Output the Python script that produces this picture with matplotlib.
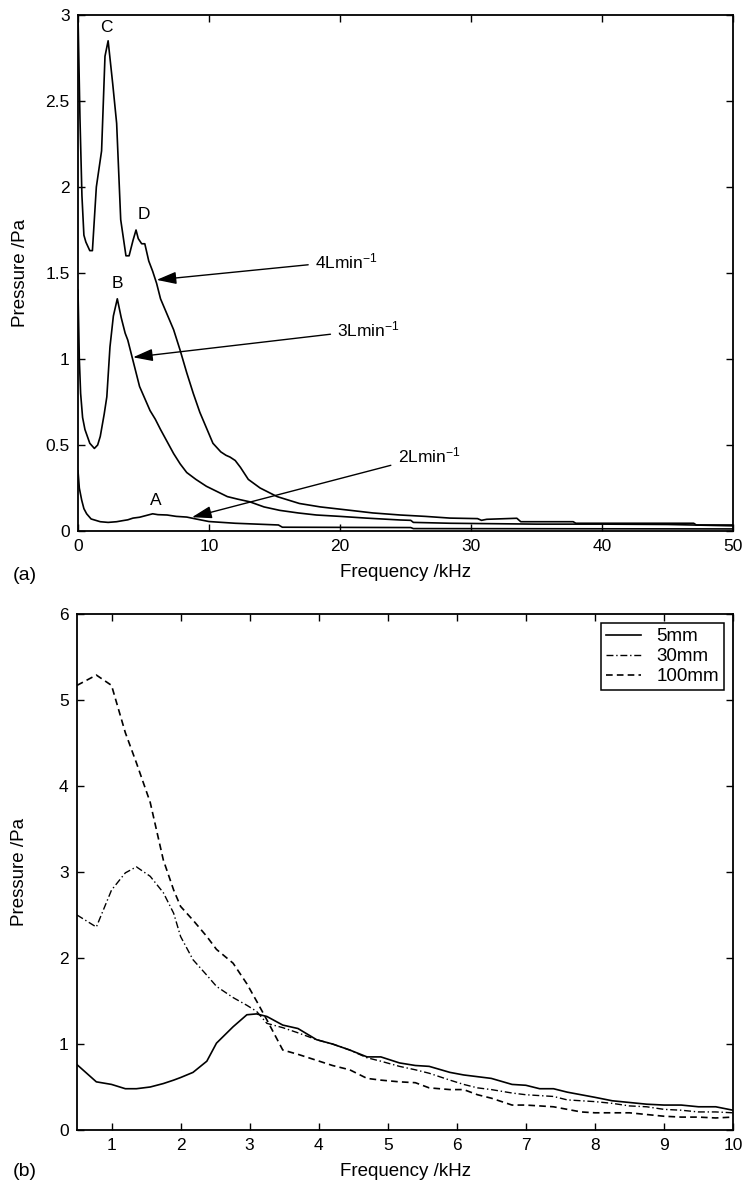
import matplotlib
matplotlib.use("Agg")
import matplotlib.pyplot as plt

plt.rcParams['font.family'] = ['Liberation Sans', 'DejaVu Sans']
plt.rcParams['mathtext.default'] = 'regular'

# === DATA (a): pressure spectra at three flow rates ===
f_4l = [0.0, 0.15, 0.3, 0.45, 0.6, 0.9, 1.1, 1.4, 1.8, 2.06, 2.3, 2.65, 2.95, 3.26, 3.66,
        3.9, 4.2, 4.43, 4.6, 4.86, 5.1, 5.4, 5.7, 6.0, 6.3, 6.8, 7.3, 7.8, 8.3, 8.8, 9.3,
        9.8, 10.3, 10.9, 11.3, 11.6, 12.0, 12.4, 13.0, 13.9, 15.2, 16.9, 18.5, 20.8, 22.5,
        24.6, 26.5, 28.4, 30.5, 30.8, 31.2, 33.5, 33.8, 37.8, 38.0, 47.0, 47.2, 50.0]
p_4l = [3.0, 2.4, 1.95, 1.72, 1.68, 1.63, 1.63, 2.0, 2.21, 2.76, 2.85, 2.6, 2.37, 1.81, 1.6,
        1.6, 1.69, 1.75, 1.70, 1.67, 1.67, 1.57, 1.51, 1.44, 1.35, 1.26, 1.17, 1.05, 0.92, 0.80, 0.69,
        0.60, 0.51, 0.46, 0.44, 0.43, 0.41, 0.37, 0.30, 0.25, 0.20, 0.16, 0.14, 0.12, 0.105,
        0.093, 0.085, 0.075, 0.072, 0.062, 0.068, 0.074, 0.054, 0.054, 0.045, 0.045, 0.035, 0.035]

f_3l = [0.0, 0.1, 0.2, 0.35, 0.53, 0.9, 1.25, 1.5, 1.7, 2.0, 2.2, 2.44, 2.7, 3.0, 3.3, 3.6,
        3.8, 4.2, 4.7, 5.1, 5.5, 5.9, 6.3, 6.8, 7.3, 7.8, 8.3, 9.0, 9.8, 10.6, 11.4, 12.2,
        13.1, 14.2, 15.4, 16.8, 18.2, 20.0, 22.0, 24.6, 25.4, 25.6, 28.4, 31.0, 35.0, 40.0,
        45.0, 50.0]
p_3l = [1.4, 1.0, 0.8, 0.66, 0.59, 0.51, 0.48, 0.5, 0.55, 0.68, 0.78, 1.07, 1.25, 1.35, 1.24, 1.15,
        1.11, 0.99, 0.84, 0.77, 0.70, 0.65, 0.59, 0.52, 0.45, 0.39, 0.34, 0.30, 0.26, 0.23, 0.20, 0.185,
        0.17, 0.14, 0.12, 0.105, 0.093, 0.085, 0.075, 0.064, 0.062, 0.05, 0.045, 0.043, 0.04, 0.04,
        0.038, 0.03]

f_2l = [0.0, 0.1, 0.28, 0.45, 0.66, 1.0, 1.7, 2.3, 2.95, 3.4, 3.8, 4.2, 4.7, 5.2, 5.7, 6.1,
        6.8, 7.5, 8.3, 9.0, 10.0, 12.0, 15.3, 15.6, 25.4, 25.6, 50.0]
p_2l = [0.35, 0.25, 0.18, 0.13, 0.10, 0.07, 0.054, 0.05, 0.054, 0.06, 0.065, 0.075, 0.08, 0.09, 0.10, 0.095,
        0.093, 0.085, 0.081, 0.07, 0.055, 0.045, 0.035, 0.022, 0.02, 0.014, 0.012]

xticks_a = [0, 10, 20, 30, 40, 50]
yticks_a = [0, 0.5, 1, 1.5, 2, 2.5, 3]
ylabels_a = ['0', '0.5', '1', '1.5', '2', '2.5', '3']

# === DATA (b): pressure vs frequency at three distances ===
f_b = [0.5, 0.78, 1.0, 1.2, 1.36, 1.56, 1.75, 1.9, 2.0, 2.18, 2.38, 2.52, 2.76, 2.96, 3.1,
       3.25, 3.48, 3.7, 3.97, 4.2, 4.45, 4.7, 4.9, 5.17, 5.4, 5.6, 5.9, 6.1, 6.3, 6.5, 6.8,
       7.0, 7.2, 7.4, 7.6, 7.8, 8.0, 8.25, 8.5, 8.75, 9.0, 9.25, 9.5, 9.75, 10.0]
p_5mm = [0.76, 0.56, 0.53, 0.48, 0.48, 0.5, 0.54, 0.58, 0.61, 0.67, 0.80, 1.01, 1.2, 1.34, 1.35,
         1.32, 1.22, 1.18, 1.05, 1.0, 0.93, 0.85, 0.85, 0.78, 0.75, 0.74, 0.67, 0.64, 0.62, 0.6, 0.53,
         0.52, 0.48, 0.48, 0.44, 0.41, 0.38, 0.34, 0.32, 0.30, 0.29, 0.29, 0.27, 0.27, 0.23]
p_30mm = [2.5, 2.36, 2.79, 2.99, 3.06, 2.95, 2.76, 2.52, 2.25, 1.98, 1.8, 1.67, 1.54, 1.45, 1.38,
          1.24, 1.19, 1.13, 1.05, 1.0, 0.93, 0.84, 0.80, 0.74, 0.70, 0.66, 0.58, 0.53, 0.49, 0.47, 0.43,
          0.41, 0.40, 0.39, 0.35, 0.34, 0.33, 0.31, 0.28, 0.27, 0.24, 0.23, 0.21, 0.21, 0.2]
p_100mm = [5.17, 5.29, 5.17, 4.62, 4.27, 3.81, 3.14, 2.79, 2.6, 2.44, 2.25, 2.1, 1.94, 1.7, 1.5,
           1.28, 0.93, 0.88, 0.81, 0.75, 0.70, 0.60, 0.58, 0.56, 0.55, 0.49, 0.47, 0.47, 0.41, 0.37, 0.29,
           0.29, 0.28, 0.27, 0.24, 0.21, 0.2, 0.2, 0.2, 0.18, 0.16, 0.15, 0.15, 0.14, 0.15]

xticks_b = [1, 2, 3, 4, 5, 6, 7, 8, 9, 10]
yticks_b = [0, 1, 2, 3, 4, 5, 6]

FS_TICK = 12.5
FS_LABEL = 13.5
FS_NOTE = 12.5
W, H = 744, 1185


def style_axes(ax):
    for s in ax.spines.values():
        s.set_linewidth(1.3)
    ax.tick_params(direction='in', length=5, width=1, top=True, right=True,
                   labelsize=FS_TICK, pad=6)


fig = plt.figure(figsize=(W / 100, H / 100), dpi=100)

# --- (a) ---
ax1 = fig.add_axes([78 / W, 1 - 531 / H, (733 - 78) / W, (531 - 15) / H])
ax1.plot(f_4l, p_4l, color='k', lw=1.2)
ax1.plot(f_3l, p_3l, color='k', lw=1.2)
ax1.plot(f_2l, p_2l, color='k', lw=1.2)
ax1.set_xlim(0, 50)
ax1.set_ylim(0, 3)
ax1.set_xticks(xticks_a)
ax1.set_yticks(yticks_a)
ax1.set_yticklabels(ylabels_a)
style_axes(ax1)
ax1.set_xlabel('Frequency /kHz', fontsize=FS_LABEL)
ax1.set_ylabel('Pressure /Pa', fontsize=FS_LABEL)
ax1.xaxis.set_label_coords(0.5, -0.064)
ax1.yaxis.set_label_coords(-0.075, 0.5)

for lbl, x, y in [('C', 2.2, 2.93), ('D', 5.0, 1.84), ('B', 3.0, 1.44), ('A', 5.9, 0.18)]:
    ax1.text(x, y, lbl, fontsize=FS_NOTE, ha='center', va='center')

arrow = dict(arrowstyle='-|>,head_length=0.8,head_width=0.25', color='k', lw=1,
             mutation_scale=15, shrinkA=3, shrinkB=0)
ax1.annotate('4Lmin$^{-1}$', xy=(6.0, 1.46), xytext=(18.1, 1.57), fontsize=FS_NOTE,
             ha='left', va='center', arrowprops=arrow)
ax1.annotate('3Lmin$^{-1}$', xy=(4.2, 1.01), xytext=(19.8, 1.17), fontsize=FS_NOTE,
             ha='left', va='center', arrowprops=arrow)
ax1.annotate('2Lmin$^{-1}$', xy=(8.7, 0.08), xytext=(24.4, 0.44), fontsize=FS_NOTE,
             ha='left', va='center', arrowprops=arrow)

# --- (b) ---
ax2 = fig.add_axes([77 / W, 1 - 1130 / H, (733 - 77) / W, (1130 - 614) / H])
ax2.plot(f_b, p_5mm, color='k', lw=1.2, ls='-', label='5mm')
ax2.plot(f_b, p_30mm, color='k', lw=1.0, ls=(0, (5, 2, 1, 2)), label='30mm')
ax2.plot(f_b, p_100mm, color='k', lw=1.2, ls=(0, (4, 2.5)), label='100mm')
ax2.set_xlim(0.5, 10)
ax2.set_ylim(0, 6)
ax2.set_xticks(xticks_b)
ax2.set_yticks(yticks_b)
style_axes(ax2)
ax2.set_xlabel('Frequency /kHz', fontsize=FS_LABEL)
ax2.set_ylabel('Pressure /Pa', fontsize=FS_LABEL)
ax2.xaxis.set_label_coords(0.5, -0.064)
ax2.yaxis.set_label_coords(-0.075, 0.5)
leg = ax2.legend(loc='upper right', fontsize=FS_LABEL, frameon=True, fancybox=False,
                 edgecolor='k', framealpha=1, borderaxespad=0.5, handlelength=1.9,
                 handletextpad=0.8, labelspacing=0.15, borderpad=0.25)
leg.get_frame().set_linewidth(1.1)

fig.text(13 / W, 1 - 575 / H, '(a)', fontsize=14, ha='left', va='center')
fig.text(13 / W, 1 - 1172 / H, '(b)', fontsize=14, ha='left', va='center')

fig.savefig('out.png', dpi=100)
